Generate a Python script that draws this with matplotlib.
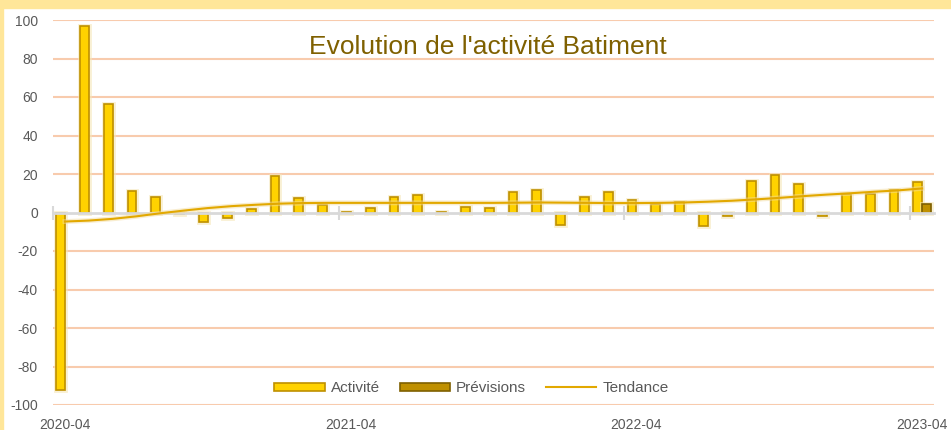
import numpy as np
import matplotlib
matplotlib.use('Agg')
import matplotlib.pyplot as plt
import matplotlib.patheffects as pe
from matplotlib.patches import Patch, Rectangle
from matplotlib.lines import Line2D

plt.rcParams['font.family'] = ['Liberation Sans', 'DejaVu Sans']

# ─── Data ─────────────────────────────────────────────────────────────────────
mois = ['2020-04', '2020-05', '2020-06', '2020-07', '2020-08', '2020-09',
        '2020-10', '2020-11', '2020-12', '2021-01', '2021-02', '2021-03',
        '2021-04', '2021-05', '2021-06', '2021-07', '2021-08', '2021-09',
        '2021-10', '2021-11', '2021-12', '2022-01', '2022-02', '2022-03',
        '2022-04', '2022-05', '2022-06', '2022-07', '2022-08', '2022-09',
        '2022-10', '2022-11', '2022-12', '2023-01', '2023-02', '2023-03',
        '2023-04']

activite = [-92.3, 96.9, 56.4, 11.0, 8.0, -1.0, -5.0, -3.0, 1.7, 19.0, 7.5, 4.0,
            0.4, 2.3, 8.0, 9.0, 0.5, 2.6, 2.3, 10.5, 11.5, -6.4, 8.3, 10.6,
            6.3, 4.5, 5.4, -7.0, -1.7, 16.2, 19.7, 14.8, -1.7, 9.7, 9.7, 11.5,
            15.6]

# forecast only exists for the last month
previsions = [np.nan] * 36 + [4.3]

tendance = [-4.7, -4.2, -3.3, -2.0, -0.4, 1.0, 2.3, 3.3, 4.0, 4.6, 4.9, 5.0,
            5.0, 5.0, 5.0, 5.0, 5.0, 5.0, 5.0, 5.1, 5.2, 5.1, 5.0, 4.9,
            4.9, 5.0, 5.2, 5.6, 6.1, 6.8, 7.6, 8.5, 9.3, 10.0, 10.8, 11.5,
            12.5]

labels_annee = ['2020-04', '2021-04', '2022-04', '2023-04']

# ─── Style ────────────────────────────────────────────────────────────────────
C_ACT       = '#FFD200'
C_ACT_EDGE  = '#BF9000'
C_PREV      = '#BF9000'
C_PREV_EDGE = '#7F6000'
C_TREND     = '#E2A800'
C_GRID      = '#F8CBAD'
C_ZERO      = '#D9D9D9'
C_TEXT      = '#595959'

x = np.arange(len(mois))
w = 0.37

fig = plt.figure(figsize=(9.51, 4.30), dpi=100)
fig.patch.set_facecolor('white')
# yellow chart border (top band and left band)
fig.patches.append(Rectangle((0, 1 - 8 / 430), 1, 8 / 430, transform=fig.transFigure,
                             color='#FFE699', zorder=0))
fig.patches.append(Rectangle((0, 0), 3 / 951, 1, transform=fig.transFigure,
                             color='#FFE699', zorder=0))

ax = fig.add_axes([53 / 951, 1 - 405 / 430, 881 / 951, 385 / 430])
ax.set_facecolor('none')

glow = [pe.Stroke(linewidth=3.5, foreground='#F6E7B8', alpha=0.6), pe.Normal()]

ax.bar(x - 0.18, activite, width=w, color=C_ACT, edgecolor=C_ACT_EDGE,
       linewidth=1.2, zorder=2, path_effects=glow)
ax.bar(x + 0.18, previsions, width=w, color=C_PREV, edgecolor=C_PREV_EDGE,
       linewidth=1.2, zorder=2, path_effects=glow)
ax.plot(x, tendance, color=C_TREND, linewidth=1.5, zorder=4,
        path_effects=[pe.Stroke(linewidth=3.5, foreground='#F3DCA0', alpha=0.5), pe.Normal()])

# gridlines
ax.set_ylim(-100, 100)
ax.set_xlim(-0.5, len(mois) - 0.5)
ax.set_yticks(np.arange(-100, 101, 20))
ax.set_yticklabels([str(v) for v in range(-100, 101, 20)])
for v in range(-100, 101, 20):
    if v != 0:
        ax.axhline(v, color=C_GRID, linewidth=1.5, zorder=0.5)

for s in ['top', 'right', 'left']:
    ax.spines[s].set_visible(False)
ax.spines['bottom'].set_position(('data', 0))
ax.spines['bottom'].set_color(C_ZERO)
ax.spines['bottom'].set_linewidth(2)
ax.spines['bottom'].set_zorder(3)

ax.set_xticks([])
ax.set_xticks(np.arange(-0.5, len(mois), 12), minor=True)
ax.tick_params(axis='x', which='minor', direction='inout', length=10,
               width=1.5, color=C_ZERO, labelbottom=False)
ax.tick_params(axis='y', length=0, pad=10.8, labelsize=10, labelcolor=C_TEXT)

# year labels under the plot
sec = ax.secondary_xaxis('bottom')
sec.set_xticks(x[::12])
sec.set_xticklabels(labels_annee)
sec.tick_params(length=0, pad=9.5, labelsize=10, labelcolor=C_TEXT)
sec.spines['bottom'].set_visible(False)

fig.text(0.513, 1 - 47 / 430, "Evolution de l'activité Batiment", ha='center',
         va='center', fontsize=19, color='#7F6000')

handles = [Patch(facecolor=C_ACT, edgecolor=C_ACT_EDGE, linewidth=1.2),
           Patch(facecolor=C_PREV, edgecolor=C_PREV_EDGE, linewidth=1.2),
           Line2D([0], [0], color=C_TREND, linewidth=1.5)]
leg = ax.legend(handles, ['Activité', 'Prévisions', 'Tendance'], ncol=3,
                loc='center', bbox_to_anchor=(0.475, 0.044), frameon=False,
                fontsize=11, handlelength=3.3, handleheight=0.45,
                handletextpad=0.4, columnspacing=1.3, borderaxespad=0)
for t in leg.get_texts():
    t.set_color(C_TEXT)

fig.savefig('out.png', dpi=100)
